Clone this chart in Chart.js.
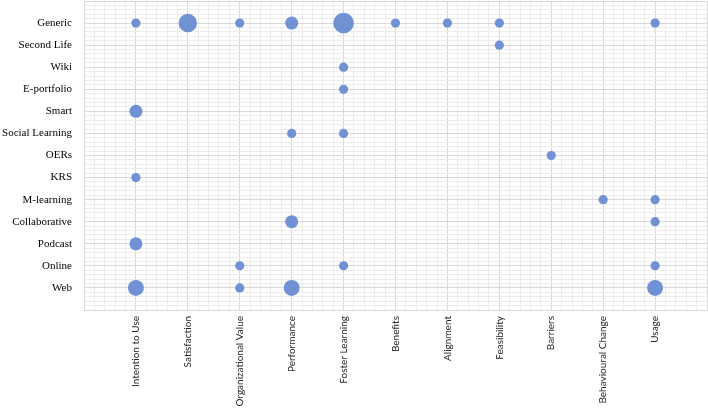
<!DOCTYPE html>
<html>
<head>
<meta charset="utf-8">
<script src="https://cdn.jsdelivr.net/npm/chart.js@4"></script>
<style>
    html, body { margin: 0; padding: 0; background: #ffffff; }
    #wrap { width: 708px; height: 409px; position: relative; }
</style>
</head>
<body>
<div id="wrap"><canvas id="bubbleChart"></canvas></div>
<script>
// ---------- DATA ----------
// x axis: outcome factors (position 1..11)
const factors = ["Intention to Use", "Satisfaction", "Organizational Value", "Performance",
    "Foster Learning", "Benefits", "Alignment", "Feasibility", "Barriers",
    "Behavioural Change", "Usage"];

// y axis: technology types (position 1..13, bottom to top)
const technologies = ["Web", "Online", "Podcast", "Collaborative", "M-learning", "KRS",
    "OERs", "Social Learning", "Smart", "E-portfolio", "Wiki", "Second Life", "Generic"];

// one entry per bubble: technology, factor, number of studies
const pointTech = ["Generic", "Generic", "Generic", "Generic", "Generic", "Generic", "Generic", "Generic", "Generic",
    "Second Life", "Wiki", "E-portfolio", "Smart", "Social Learning", "Social Learning", "OERs", "KRS",
    "M-learning", "M-learning", "Collaborative", "Collaborative", "Podcast",
    "Online", "Online", "Online", "Web", "Web", "Web", "Web"];
const pointFactor = ["Intention to Use", "Satisfaction", "Organizational Value", "Performance", "Foster Learning",
    "Benefits", "Alignment", "Feasibility", "Usage",
    "Feasibility", "Foster Learning", "Foster Learning", "Intention to Use", "Performance", "Foster Learning",
    "Barriers", "Intention to Use",
    "Behavioural Change", "Usage", "Performance", "Usage", "Intention to Use",
    "Organizational Value", "Foster Learning", "Usage",
    "Intention to Use", "Organizational Value", "Performance", "Usage"];
const pointCount = [1, 4, 1, 2, 5, 1, 1, 1, 1,
    1, 1, 1, 2, 1, 1, 1, 1,
    1, 1, 2, 1, 2,
    1, 1, 1, 3, 1, 3, 3];

const bubbles = pointCount.map((n, i) => ({
    x: factors.indexOf(pointFactor[i]) + 1,
    y: technologies.indexOf(pointTech[i]) + 1,
    r: 4.6 * Math.sqrt(n)
}));

const isWhole = v => Math.abs(v - Math.round(v)) < 1e-6;
const majorGrid = "#d9d9d9";
const minorGrid = "#ededed";

// label gap comes from invisible tick marks, not ticks.padding,
// and lineHeight 0 stops chart.js reserving edge room for the labels
new Chart(document.getElementById("bubbleChart").getContext("2d"), {
    type: "bubble",
    data: {
        datasets: [{
            data: bubbles,
            backgroundColor: "rgb(112,145,212)",
            borderWidth: 0,
            hoverBorderWidth: 0
        }]
    },
    options: {
        responsive: true,
        maintainAspectRatio: false,
        animation: false,
        layout: { autoPadding: false, padding: { top: 1, right: 1, left: 0, bottom: 0 } },
        plugins: {
            legend: { display: false },
            tooltip: { enabled: false }
        },
        scales: {
            x: {
                type: "linear",
                min: 0,
                max: 12,
                afterFit: s => { s.height = 99; },
                border: { color: majorGrid },
                grid: {
                    drawTicks: true,
                    tickLength: 6,
                    tickColor: "rgba(0,0,0,0)",
                    color: c => isWhole(c.tick.value) ? majorGrid : minorGrid
                },
                ticks: {
                    stepSize: 0.2,
                    autoSkip: false,
                    minRotation: 90,
                    maxRotation: 90,
                    padding: 0,
                    color: "#262626",
                    font: { family: "Lato", size: 10, lineHeight: 0 },
                    callback: v => isWhole(v) && factors[Math.round(v) - 1] ? factors[Math.round(v) - 1] : ""
                }
            },
            y: {
                type: "linear",
                min: 0,
                max: 14,
                afterFit: s => { s.width = 84; },
                border: { color: majorGrid },
                grid: {
                    drawTicks: true,
                    tickLength: 12,
                    tickColor: "rgba(0,0,0,0)",
                    color: c => isWhole(c.tick.value) ? majorGrid : minorGrid
                },
                ticks: {
                    stepSize: 0.2,
                    autoSkip: false,
                    padding: 0,
                    color: "#000000",
                    font: { family: "Liberation Serif", size: 11, lineHeight: 0 },
                    callback: v => isWhole(v) && technologies[Math.round(v) - 1] ? technologies[Math.round(v) - 1] : ""
                }
            }
        }
    }
});
</script>
</body>
</html>
